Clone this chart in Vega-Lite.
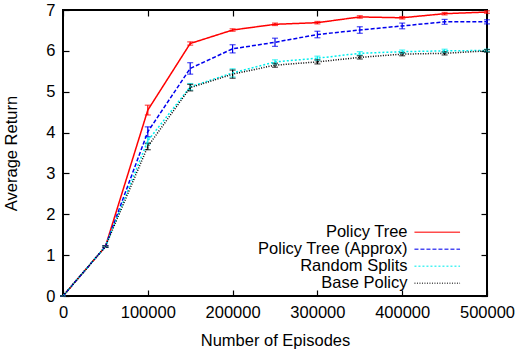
{
  "$schema": "https://vega.github.io/schema/vega-lite/v6.json",
  "width": 424,
  "height": 286,
  "autosize": {"type": "none"},
  "padding": {"left": 63, "top": 10, "right": 29, "bottom": 56},
  "config": {
    "font": "Liberation Sans",
    "view": {"stroke": "#000000", "strokeWidth": 2},
    "axis": {
      "domain": false,
      "grid": false,
      "tickColor": "#000000",
      "tickWidth": 1.2,
      "tickSize": -6,
      "labelColor": "#000000",
      "labelFontSize": 16.5,
      "labelFont": "Liberation Sans",
      "titleFont": "Liberation Sans",
      "titleFontSize": 16.5,
      "titleFontWeight": "normal",
      "titleColor": "#000000",
      "labelFlush": false,
      "labelOverlap": false
    }
  },
  "data": {
    "values": [
      {"s": "Policy Tree", "x": 0, "y": 0, "lo": 0, "hi": 0},
      {"s": "Policy Tree", "x": 50000, "y": 1.21, "lo": 1.19, "hi": 1.23},
      {"s": "Policy Tree", "x": 100000, "y": 4.55, "lo": 4.43, "hi": 4.67},
      {"s": "Policy Tree", "x": 150000, "y": 6.18, "lo": 6.14, "hi": 6.22},
      {"s": "Policy Tree", "x": 200000, "y": 6.51, "lo": 6.48, "hi": 6.54},
      {"s": "Policy Tree", "x": 250000, "y": 6.65, "lo": 6.62, "hi": 6.68},
      {"s": "Policy Tree", "x": 300000, "y": 6.69, "lo": 6.66, "hi": 6.72},
      {"s": "Policy Tree", "x": 350000, "y": 6.83, "lo": 6.8, "hi": 6.86},
      {"s": "Policy Tree", "x": 400000, "y": 6.81, "lo": 6.78, "hi": 6.84},
      {"s": "Policy Tree", "x": 450000, "y": 6.91, "lo": 6.88, "hi": 6.94},
      {"s": "Policy Tree", "x": 500000, "y": 6.95, "lo": 6.92, "hi": 6.98},
      {"s": "Policy Tree (Approx)", "x": 0, "y": 0, "lo": 0, "hi": 0},
      {"s": "Policy Tree (Approx)", "x": 50000, "y": 1.21, "lo": 1.19, "hi": 1.23},
      {"s": "Policy Tree (Approx)", "x": 100000, "y": 4.02, "lo": 3.9, "hi": 4.14},
      {"s": "Policy Tree (Approx)", "x": 150000, "y": 5.57, "lo": 5.43, "hi": 5.71},
      {"s": "Policy Tree (Approx)", "x": 200000, "y": 6.05, "lo": 5.95, "hi": 6.15},
      {"s": "Policy Tree (Approx)", "x": 250000, "y": 6.21, "lo": 6.11, "hi": 6.31},
      {"s": "Policy Tree (Approx)", "x": 300000, "y": 6.4, "lo": 6.32, "hi": 6.48},
      {"s": "Policy Tree (Approx)", "x": 350000, "y": 6.51, "lo": 6.43, "hi": 6.59},
      {"s": "Policy Tree (Approx)", "x": 400000, "y": 6.61, "lo": 6.54, "hi": 6.68},
      {"s": "Policy Tree (Approx)", "x": 450000, "y": 6.71, "lo": 6.65, "hi": 6.77},
      {"s": "Policy Tree (Approx)", "x": 500000, "y": 6.71, "lo": 6.66, "hi": 6.76},
      {"s": "Random Splits", "x": 0, "y": 0, "lo": 0, "hi": 0},
      {"s": "Random Splits", "x": 50000, "y": 1.21, "lo": 1.19, "hi": 1.23},
      {"s": "Random Splits", "x": 100000, "y": 3.8, "lo": 3.72, "hi": 3.88},
      {"s": "Random Splits", "x": 150000, "y": 5.12, "lo": 5.04, "hi": 5.2},
      {"s": "Random Splits", "x": 200000, "y": 5.46, "lo": 5.36, "hi": 5.56},
      {"s": "Random Splits", "x": 250000, "y": 5.73, "lo": 5.68, "hi": 5.78},
      {"s": "Random Splits", "x": 300000, "y": 5.82, "lo": 5.77, "hi": 5.87},
      {"s": "Random Splits", "x": 350000, "y": 5.94, "lo": 5.9, "hi": 5.98},
      {"s": "Random Splits", "x": 400000, "y": 5.98, "lo": 5.94, "hi": 6.02},
      {"s": "Random Splits", "x": 450000, "y": 6.0, "lo": 5.96, "hi": 6.04},
      {"s": "Random Splits", "x": 500000, "y": 6.01, "lo": 5.98, "hi": 6.04},
      {"s": "Base Policy", "x": 0, "y": 0, "lo": 0, "hi": 0},
      {"s": "Base Policy", "x": 50000, "y": 1.21, "lo": 1.19, "hi": 1.23},
      {"s": "Base Policy", "x": 100000, "y": 3.66, "lo": 3.58, "hi": 3.74},
      {"s": "Base Policy", "x": 150000, "y": 5.1, "lo": 5.02, "hi": 5.18},
      {"s": "Base Policy", "x": 200000, "y": 5.43, "lo": 5.33, "hi": 5.53},
      {"s": "Base Policy", "x": 250000, "y": 5.65, "lo": 5.6, "hi": 5.7},
      {"s": "Base Policy", "x": 300000, "y": 5.73, "lo": 5.68, "hi": 5.78},
      {"s": "Base Policy", "x": 350000, "y": 5.84, "lo": 5.8, "hi": 5.88},
      {"s": "Base Policy", "x": 400000, "y": 5.92, "lo": 5.88, "hi": 5.96},
      {"s": "Base Policy", "x": 450000, "y": 5.94, "lo": 5.9, "hi": 5.98},
      {"s": "Base Policy", "x": 500000, "y": 6.0, "lo": 5.97, "hi": 6.03}
    ]
  },
  "layer": [
    {
      "mark": {"type": "rule", "strokeWidth": 1.2},
      "encoding": {
        "x": {"field": "x", "type": "quantitative", "scale": {"domain": [0, 500000], "nice": false}, "axis": {"values": [0, 100000, 200000, 300000, 400000, 500000], "format": "d", "title": "Number of Episodes", "labelPadding": 14, "titlePadding": 12}},
        "y": {"field": "lo", "type": "quantitative", "scale": {"domain": [0, 7], "nice": false}, "axis": {"values": [0, 1, 2, 3, 4, 5, 6, 7], "title": "Average Return", "labelPadding": 14, "titlePadding": 26}},
        "y2": {"field": "hi"},
        "color": {"field": "s", "type": "nominal", "scale": {"domain": ["Policy Tree", "Policy Tree (Approx)", "Random Splits", "Base Policy"], "range": ["#ff0000", "#0000ee", "#00eeee", "#000000"]},
          "legend": {"title": null, "orient": "none", "legendX": 356, "legendY": 214, "padding": 0, "labelAlign": "right", "labelOffset": -38, "symbolOffset": 10, "symbolType": "M-3.8,0H3.8", "symbolSize": 144, "symbolStrokeWidth": 1.5, "symbolFillColor": "transparent", "labelFontSize": 16.5, "labelFont": "Liberation Sans", "labelColor": "#000000", "rowPadding": 0, "labelLimit": 0}}
      }
    },
    {
      "mark": {"type": "tick", "orient": "horizontal", "size": 6, "thickness": 1.2},
      "encoding": {
        "x": {"field": "x", "type": "quantitative", "axis": null},
        "y": {"field": "lo", "type": "quantitative", "axis": null},
        "color": {"field": "s", "type": "nominal"}
      }
    },
    {
      "mark": {"type": "tick", "orient": "horizontal", "size": 6, "thickness": 1.2},
      "encoding": {
        "x": {"field": "x", "type": "quantitative", "axis": null},
        "y": {"field": "hi", "type": "quantitative", "axis": null},
        "color": {"field": "s", "type": "nominal"}
      }
    },
    {
      "mark": {"type": "line", "strokeWidth": 1.5},
      "encoding": {
        "x": {"field": "x", "type": "quantitative", "axis": null},
        "y": {"field": "y", "type": "quantitative", "axis": null},
        "color": {"field": "s", "type": "nominal"},
        "strokeDash": {"field": "s", "type": "nominal", "scale": {"domain": ["Policy Tree", "Policy Tree (Approx)", "Random Splits", "Base Policy"], "range": [[1, 0], [4, 2], [2, 2], [1, 1.5]]}}
      }
    },
    {
      "mark": {"type": "point", "opacity": 0},
      "encoding": {
        "x": {"field": "x", "type": "quantitative", "axis": {"orient": "top", "values": [0, 100000, 200000, 300000, 400000, 500000], "labels": false, "title": null}},
        "y": {"field": "y", "type": "quantitative", "axis": {"orient": "right", "values": [0, 1, 2, 3, 4, 5, 6, 7], "labels": false, "title": null}}
      }
    }
  ],
  "resolve": {"axis": {"x": "independent", "y": "independent"}}
}
